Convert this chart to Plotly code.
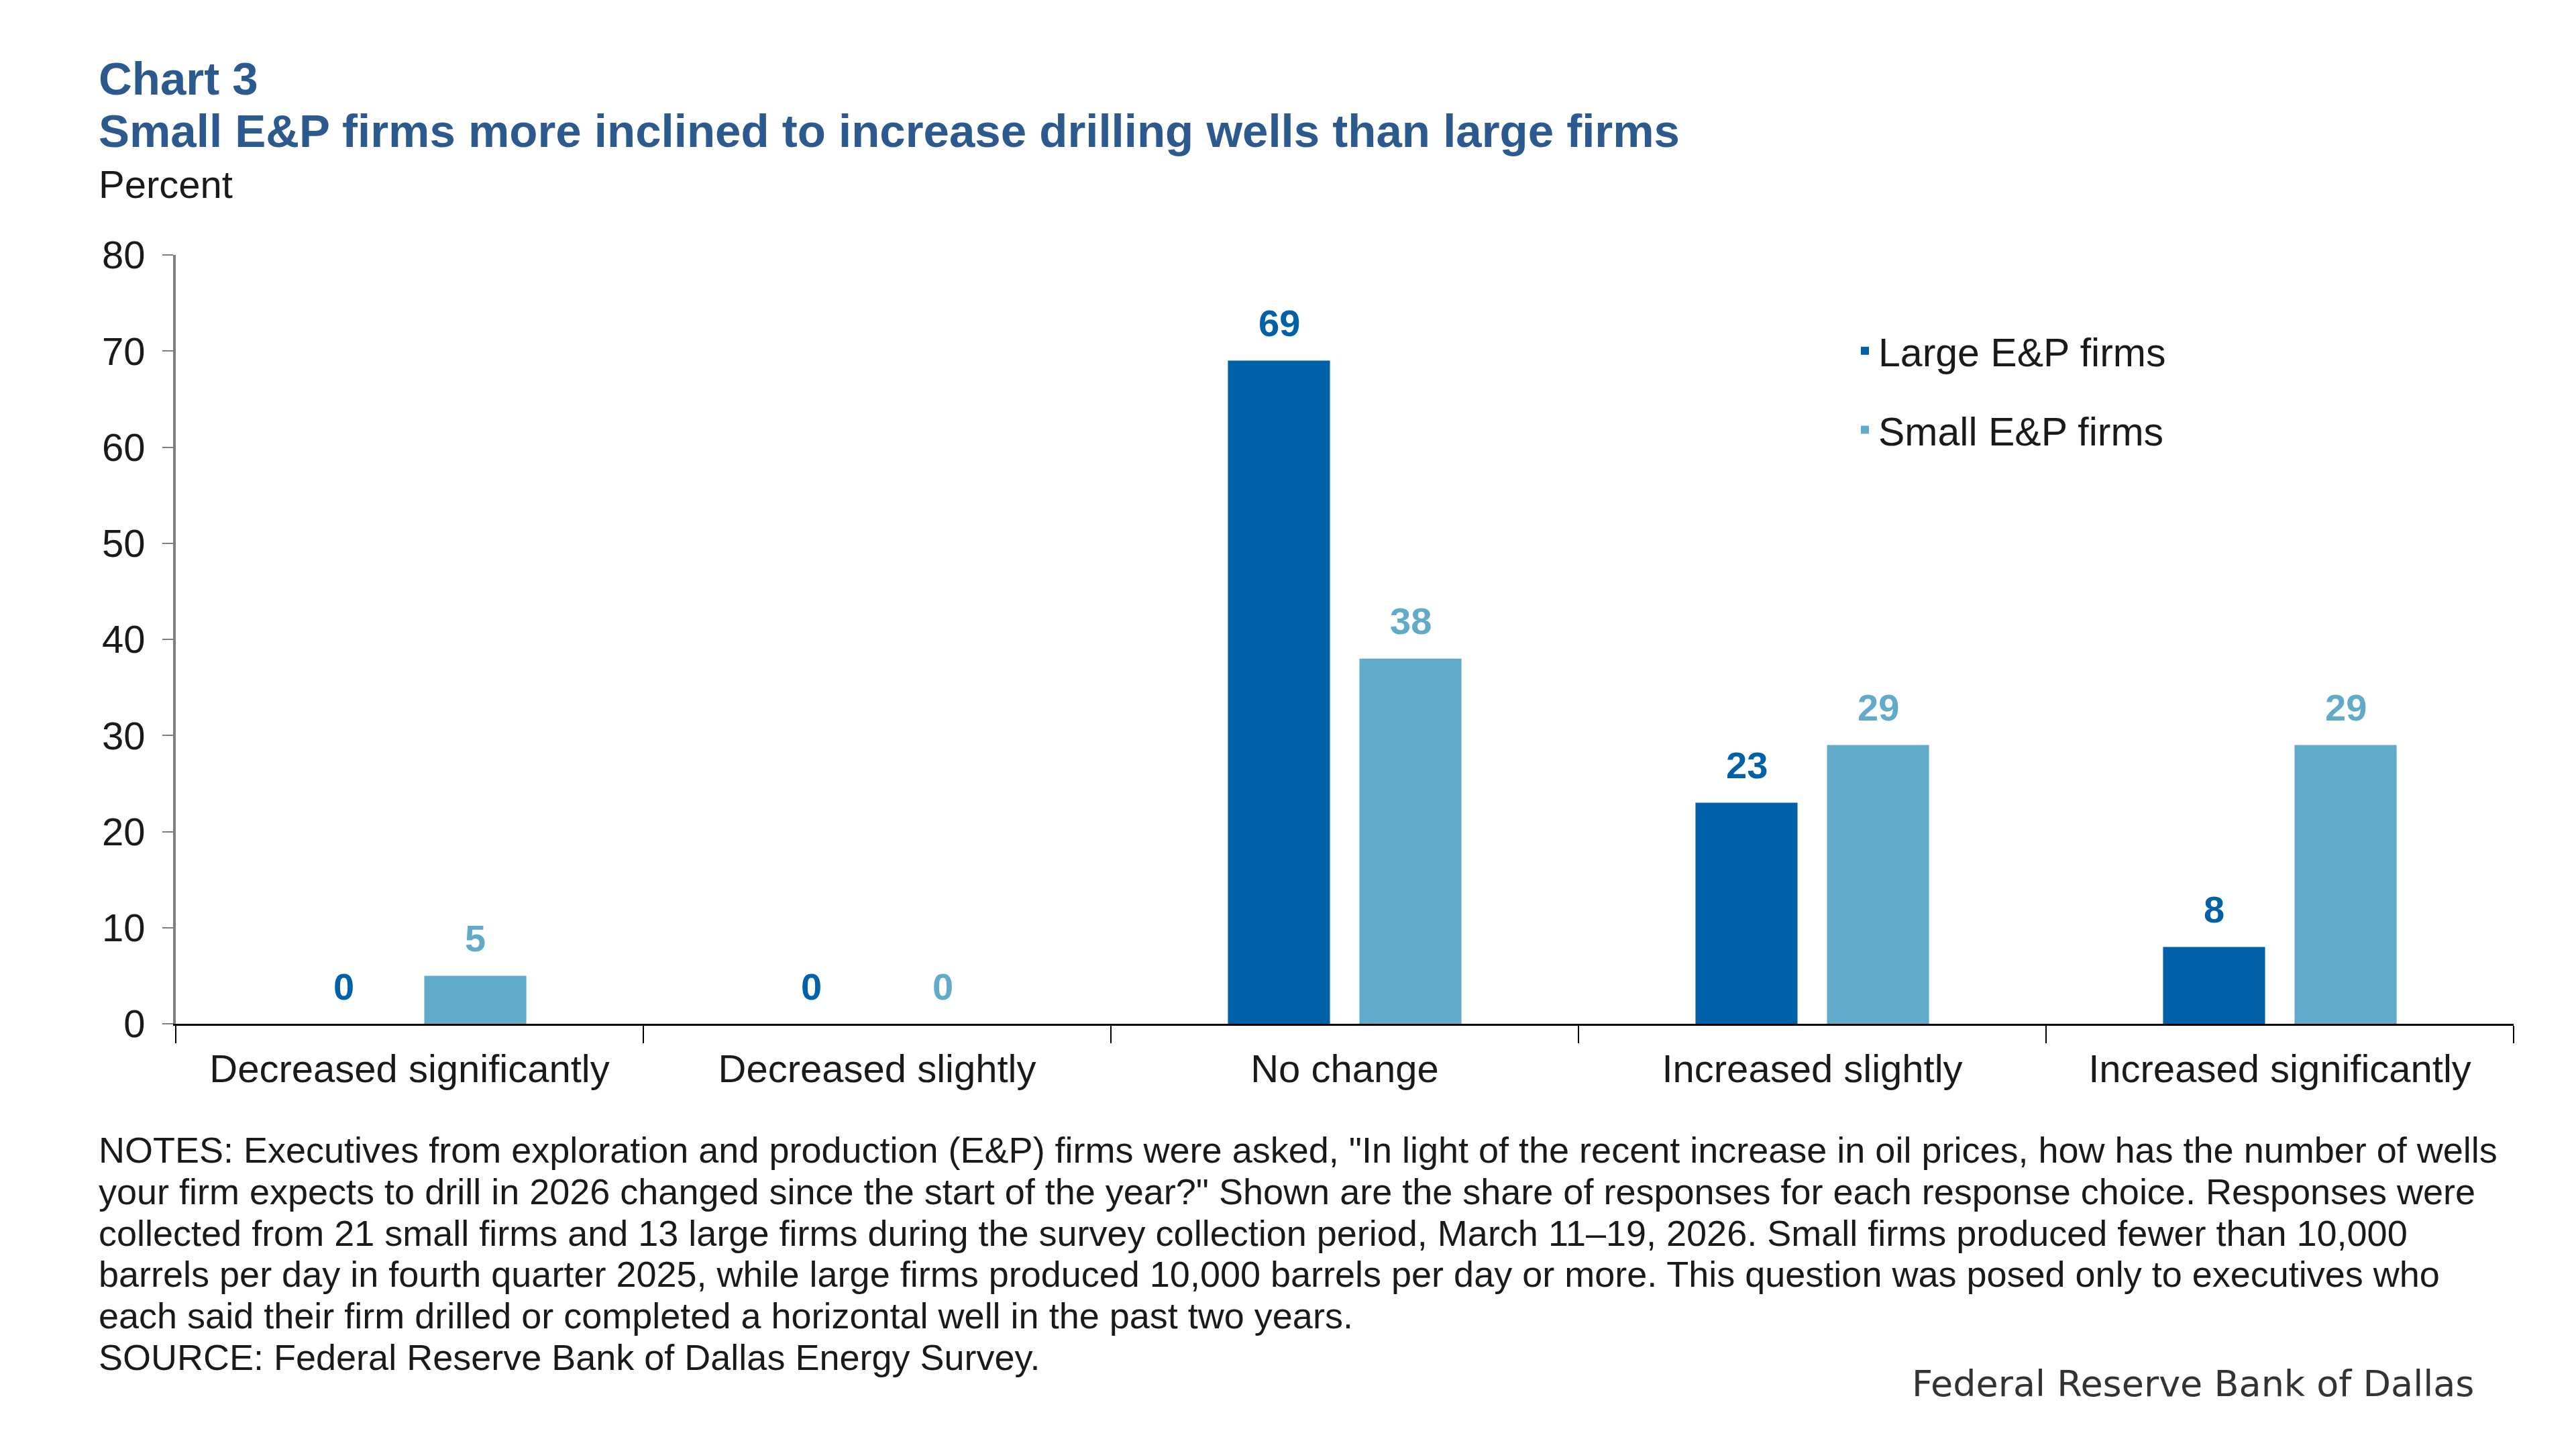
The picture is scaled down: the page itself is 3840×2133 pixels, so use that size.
import plotly.graph_objects as go

categories = ["Decreased significantly", "Decreased slightly", "No change",
              "Increased slightly", "Increased significantly"]
large_firms = [0, 0, 69, 23, 8]
small_firms = [5, 0, 38, 29, 29]
series_names = ["Large E&P firms", "Small E&P firms"]
y_ticks = [0, 10, 20, 30, 40, 50, 60, 70, 80]

notes_lines = [
    "NOTES: Executives from exploration and production (E&P) firms were asked, \"In light of the recent increase in oil prices, how has the number of wells",
    "your firm expects to drill in 2026 changed since the start of the year?\" Shown are the share of responses for each response choice. Responses were",
    "collected from 21 small firms and 13 large firms during the survey collection period, March 11–19, 2026. Small firms produced fewer than 10,000",
    "barrels per day in fourth quarter 2025, while large firms produced 10,000 barrels per day or more. This question was posed only to executives who",
    "each said their firm drilled or completed a horizontal well in the past two years.",
    "SOURCE: Federal Reserve Bank of Dallas Energy Survey.",
]

DARK = "#0060A8"
LIGHT = "#62ABC8"
TITLE_C = "#2D5A8E"
TXT = "#1a1a1a"
FONT = "Liberation Sans, Arial, sans-serif"

W, H = 3840, 2133
L, R, T, B = 262, 3747, 380, 1526


def px(x):
    return (x - L) / (R - L)


def py(y):
    return (B - y) / (B - T)


fig = go.Figure()
fig.add_trace(go.Bar(x=categories, y=large_firms, name=series_names[0],
                     marker=dict(color=DARK, line=dict(width=0)),
                     legendgroup="a"))
fig.add_trace(go.Bar(x=categories, y=small_firms, name=series_names[1],
                     marker=dict(color=LIGHT, line=dict(width=0)),
                     legendgroup="b"))

annotations = []
for cat, v in zip(categories, large_firms):
    annotations.append(dict(x=cat, y=v, xref="x", yref="y", text="<b>%d</b>" % v,
                            showarrow=False, xshift=-98, yshift=56,
                            yanchor="middle", xanchor="center",
                            font=dict(family=FONT, size=56, color=DARK)))
for cat, v in zip(categories, small_firms):
    annotations.append(dict(x=cat, y=v, xref="x", yref="y", text="<b>%d</b>" % v,
                            showarrow=False, xshift=98, yshift=56,
                            yanchor="middle", xanchor="center",
                            font=dict(family=FONT, size=56, color=LIGHT)))

annotations.append(dict(x=px(145), y=py(118), xref="paper", yref="paper",
                        text="<b>Chart 3</b>", showarrow=False,
                        xanchor="left", yanchor="middle",
                        font=dict(family=FONT, size=69, color=TITLE_C)))
annotations.append(dict(x=px(145), y=py(196), xref="paper", yref="paper",
                        text="<b>Small E&P firms more inclined to increase drilling wells than large firms</b>",
                        showarrow=False, xanchor="left", yanchor="middle",
                        font=dict(family=FONT, size=69, color=TITLE_C)))
annotations.append(dict(x=px(145), y=py(274), xref="paper", yref="paper",
                        text="Percent", showarrow=False,
                        xanchor="left", yanchor="middle",
                        font=dict(family=FONT, size=58, color=TXT)))

for i, line in enumerate(notes_lines):
    annotations.append(dict(x=px(145), y=py(1714 + i * 61.8), xref="paper", yref="paper",
                            text=line, showarrow=False, align="left",
                            xanchor="left", yanchor="middle",
                            font=dict(family=FONT, size=54, color=TXT)))

annotations.append(dict(x=px(3690), y=py(2062), xref="paper", yref="paper",
                        text="Federal Reserve Bank of Dallas", showarrow=False,
                        xanchor="right", yanchor="middle",
                        font=dict(family="DejaVu Sans, sans-serif", size=54, color="#333333")))

fig.update_layout(
    width=W, height=H,
    margin=dict(l=L, r=W - R, t=T, b=H - B, pad=0),
    paper_bgcolor="white", plot_bgcolor="white",
    barmode="group", bargap=0.4375, bargroupgap=0.224,
    font=dict(family=FONT, size=58, color=TXT),
    showlegend=True,
    legend=dict(x=px(2760), y=py(478), xanchor="left", yanchor="top",
                font=dict(family=FONT, size=59, color=TXT),
                tracegroupgap=38, bgcolor="rgba(0,0,0,0)",
                itemwidth=30),
    annotations=annotations,
)
fig.update_xaxes(showline=True, linecolor="#000000", linewidth=3,
                 ticks="outside", tickson="boundaries", ticklen=26,
                 tickcolor="#000000", tickwidth=2,
                 tickfont=dict(family=FONT, size=58, color=TXT),
                 ticklabelstandoff=14,
                 showgrid=False, zeroline=False)
fig.update_yaxes(range=[0, 80], tickvals=y_ticks, showline=True,
                 linecolor="#7f7f7f", linewidth=4, ticks="outside",
                 ticklen=16, tickcolor="#7f7f7f", tickwidth=2,
                 tickfont=dict(family=FONT, size=58, color=TXT),
                 ticklabelstandoff=14,
                 showgrid=False, zeroline=False)

fig.write_html("out.html")
